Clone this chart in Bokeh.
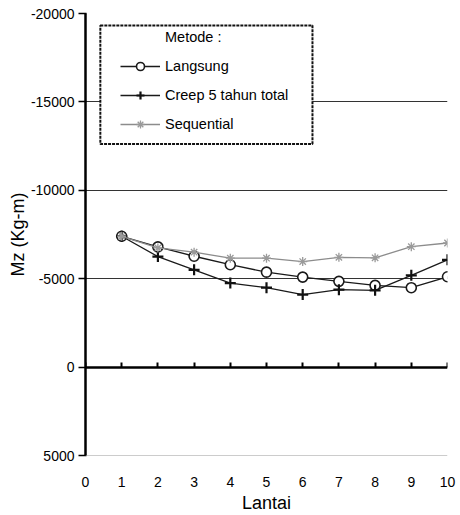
from bokeh.plotting import figure
from bokeh.models import (Range1d, LinearAxis, FixedTicker, Legend, LegendItem,
                          BoxAnnotation, Span)
from bokeh.embed import file_html
from bokeh.resources import INLINE

# ---- data ----
lantai = [1, 2, 3, 4, 5, 6, 7, 8, 9, 10]
langsung = [-7400, -6800, -6270, -5790, -5370, -5090, -4850, -4620, -4490, -5110]
creep = [-7400, -6250, -5500, -4750, -4490, -4100, -4380, -4340, -5190, -6070]
sequential = [-7400, -6740, -6500, -6160, -6160, -5970, -6210, -6180, -6810, -7020]

x_ticks = [0, 1, 2, 3, 4, 5, 6, 7, 8, 9, 10]
y_ticks = [-20000, -15000, -10000, -5000, 0, 5000]
y_tick_labels = ["-20000", "-15000", "-10000", "-5000", "0", "5000"]
grid_ticks = [-20000, -15000, -10000, -5000]

series_names = ["Langsung", "Creep 5 tahun total", "Sequential"]
legend_title = "Metode :"
x_label = "Lantai"
y_label = "Mz (Kg-m)"

FONT = "Liberation Sans"

p = figure(width=460, height=515, output_backend="svg", toolbar_location=None,
           x_range=Range1d(0, 10), y_range=Range1d(5000, -20000),
           min_border_left=85, min_border_right=13, min_border_top=13,
           min_border_bottom=58, outline_line_color=None,
           background_fill_color="white", border_fill_color="white")

p.xgrid.visible = False
p.ygrid.ticker = FixedTicker(ticks=grid_ticks)
p.ygrid.grid_line_color = "#333333"
p.ygrid.grid_line_width = 1

p.add_layout(Span(location=5000, dimension="width", line_color="#9a9a9a", line_width=1))

# left axis
ya = p.yaxis[0]
ya.ticker = FixedTicker(ticks=y_ticks)
ya.major_label_overrides = {t: s for t, s in zip(y_ticks, y_tick_labels)}
ya.axis_line_width = 2.5
ya.axis_line_color = "black"
ya.major_tick_out = 7
ya.major_tick_in = 1
ya.major_tick_line_width = 1.5
ya.minor_tick_line_color = None
ya.major_label_standoff = 4
ya.major_label_text_font = FONT
ya.major_label_text_font_size = "14px"
ya.major_label_text_color = "black"
ya.axis_label = y_label
ya.axis_label_standoff = 0
ya.axis_label_text_font = FONT
ya.axis_label_text_font_size = "18px"
ya.axis_label_text_font_style = "normal"
ya.axis_label_text_color = "black"

# bottom axis (labels only)
xa = p.xaxis[0]
xa.ticker = FixedTicker(ticks=x_ticks)
xa.axis_line_color = None
xa.major_tick_line_color = None
xa.minor_tick_line_color = None
xa.major_label_standoff = 15
xa.major_label_text_font = FONT
xa.major_label_text_font_size = "14px"
xa.major_label_text_color = "black"
xa.axis_label = x_label
xa.axis_label_standoff = 3
xa.axis_label_text_font = FONT
xa.axis_label_text_font_size = "18px"
xa.axis_label_text_font_style = "normal"
xa.axis_label_text_color = "black"

# zero axis
za = LinearAxis(fixed_location=0, ticker=FixedTicker(ticks=x_ticks))
za.axis_line_width = 2.5
za.axis_line_color = "black"
za.major_tick_in = 5
za.major_tick_out = 0
za.major_tick_line_width = 2
za.minor_tick_line_color = None
za.major_label_text_font_size = "0px"
za.major_label_text_color = None
p.add_layout(za, "below")

# series
l1 = p.line(lantai, langsung, line_color="#1a1a1a", line_width=1.3)
s1 = p.scatter(lantai, langsung, marker="circle", size=10, line_color="#1a1a1a",
               line_width=1.6, fill_color="white")
l2 = p.line(lantai, creep, line_color="#1a1a1a", line_width=1.3)
s2 = p.scatter(lantai, creep, marker="cross", size=11, line_color="#111111", line_width=2.2)
l3 = p.line(lantai, sequential, line_color="#8c8c8c", line_width=1.3)
s3 = p.scatter(lantai, sequential, marker="asterisk", size=9, line_color="#9a9a9a", line_width=1.3)

dummy = p.line([], [], line_alpha=0)

# legend box
box = BoxAnnotation(left=0.41, right=6.27, top=-19324, bottom=-12624,
                    fill_color="white", fill_alpha=1.0,
                    line_color="#111111", line_alpha=1.0, line_width=2,
                    line_dash="3 1")
p.add_layout(box)

legend = Legend(items=[LegendItem(label=legend_title, renderers=[dummy]),
                       LegendItem(label=series_names[0], renderers=[l1, s1]),
                       LegendItem(label=series_names[1], renderers=[l2, s2]),
                       LegendItem(label=series_names[2], renderers=[l3, s3])],
                location=(35, 321), padding=0, margin=0, spacing=9,
                label_height=20, glyph_height=20, glyph_width=40, label_standoff=5,
                label_text_font=FONT, label_text_font_size="14.5px",
                label_text_color="black",
                border_line_color=None, background_fill_alpha=0)
p.add_layout(legend, "center")

open("out.html", "w").write(file_html(p, INLINE))
